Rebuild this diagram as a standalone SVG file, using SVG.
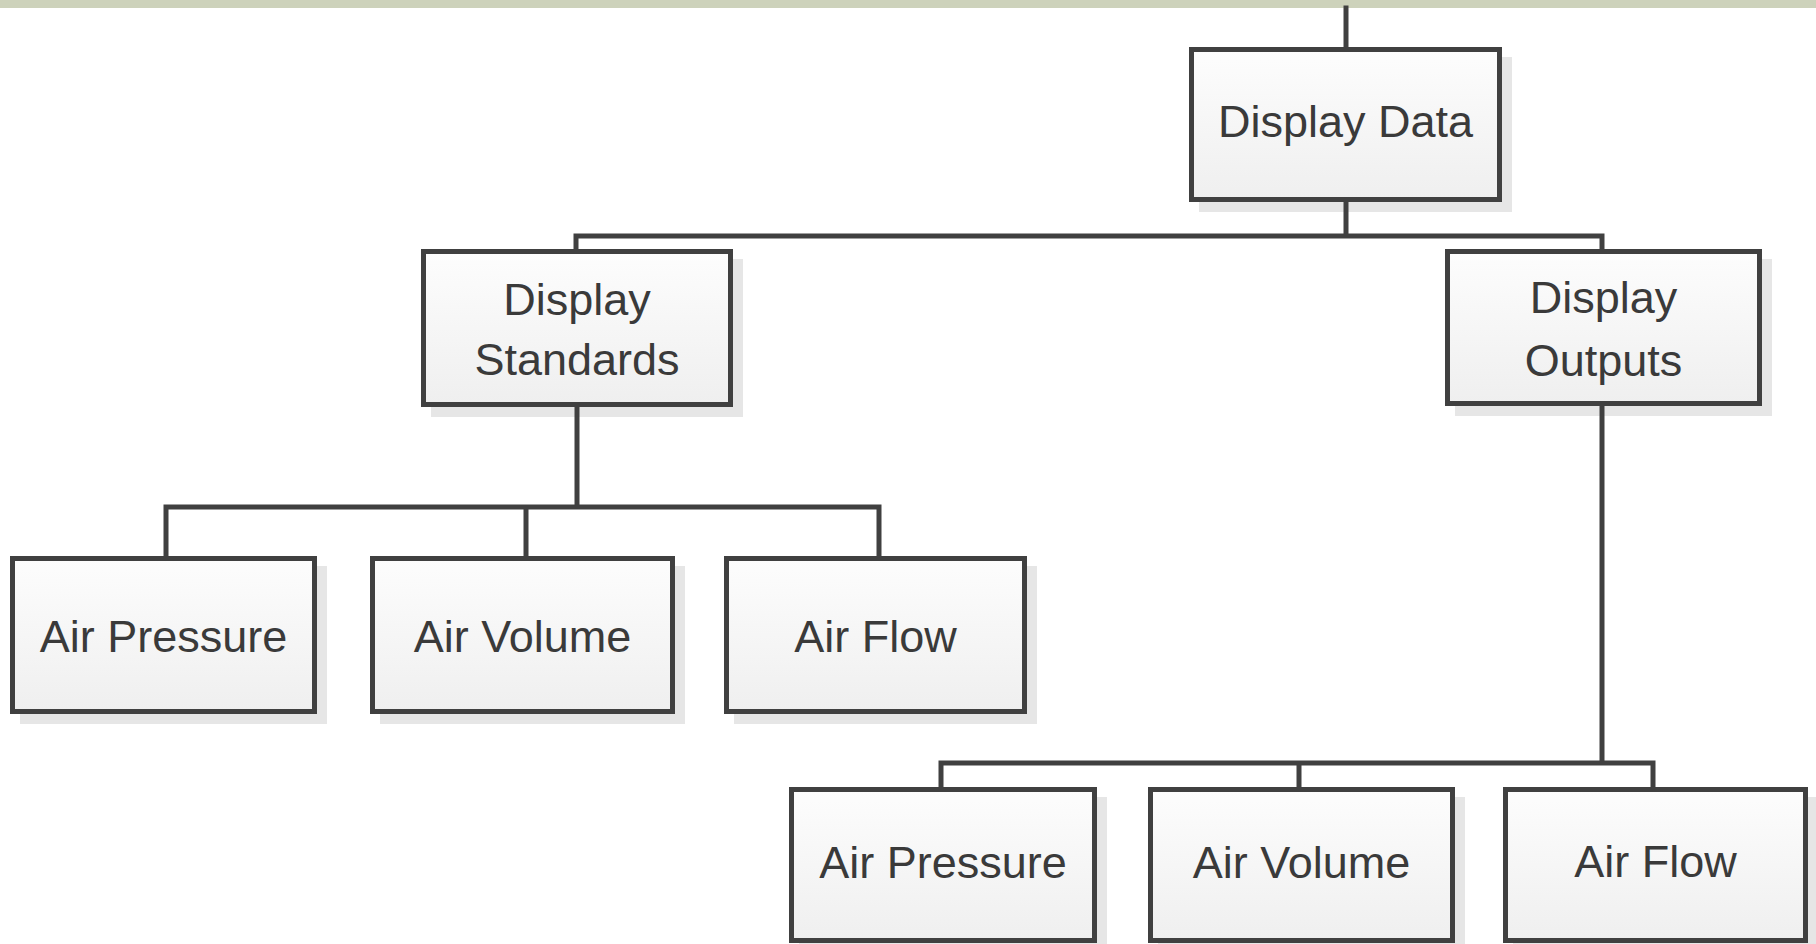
<svg xmlns="http://www.w3.org/2000/svg" width="1816" height="944" viewBox="0 0 1816 944">
  <style>
    .box { fill: url(#g); stroke: #404040; stroke-width: 5; }
    .sh { fill: #e6e6e6; }
    .t { font-family: "Liberation Sans", Arial, sans-serif; font-size: 45px; fill: #3a3a3a; text-anchor: middle; }
    .c { fill: none; stroke: #404040; stroke-width: 5; stroke-linecap: square; }
  </style>
  <defs>
    <linearGradient id="g" x1="0" y1="0" x2="0" y2="1">
      <stop offset="0" stop-color="#fdfdfd"/>
      <stop offset="1" stop-color="#efefef"/>
    </linearGradient>
  </defs>
  <rect x="0" y="0" width="1816" height="944" fill="#ffffff"/>
  <rect x="0" y="0" width="1816" height="8" fill="#cdd2bb"/>

  <g id="display-data">
    <rect class="sh" x="1199" y="57" width="313" height="155"/>
    <rect class="box" x="1191.5" y="49.5" width="308" height="150"/>
    <text class="t" x="1345.5" y="137">Display Data</text>
  </g>
  <g id="display-standards">
    <rect class="sh" x="431" y="259" width="312" height="158"/>
    <rect class="box" x="423.5" y="251.5" width="307" height="153"/>
    <text class="t" x="577" y="315">Display</text>
    <text class="t" x="577" y="375">Standards</text>
  </g>
  <g id="display-outputs">
    <rect class="sh" x="1455" y="259" width="317" height="157"/>
    <rect class="box" x="1447.5" y="251.5" width="312" height="152"/>
    <text class="t" x="1603.5" y="313">Display</text>
    <text class="t" x="1603.5" y="376">Outputs</text>
  </g>
  <g id="std-air-pressure">
    <rect class="sh" x="20" y="566" width="307" height="158"/>
    <rect class="box" x="12.5" y="558.5" width="302" height="153"/>
    <text class="t" x="163.5" y="652">Air Pressure</text>
  </g>
  <g id="std-air-volume">
    <rect class="sh" x="380" y="566" width="305" height="158"/>
    <rect class="box" x="372.5" y="558.5" width="300" height="153"/>
    <text class="t" x="522.5" y="652">Air Volume</text>
  </g>
  <g id="std-air-flow">
    <rect class="sh" x="734" y="566" width="303" height="158"/>
    <rect class="box" x="726.5" y="558.5" width="298" height="153"/>
    <text class="t" x="875.5" y="652">Air Flow</text>
  </g>
  <g id="out-air-pressure">
    <rect class="sh" x="799" y="797" width="308" height="156"/>
    <rect class="box" x="791.5" y="789.5" width="303" height="151"/>
    <text class="t" x="943" y="878">Air Pressure</text>
  </g>
  <g id="out-air-volume">
    <rect class="sh" x="1158" y="797" width="307" height="156"/>
    <rect class="box" x="1150.5" y="789.5" width="302" height="151"/>
    <text class="t" x="1301.5" y="878">Air Volume</text>
  </g>
  <g id="out-air-flow">
    <rect class="sh" x="1513" y="797" width="305" height="156"/>
    <rect class="box" x="1505.5" y="789.5" width="300" height="151"/>
    <text class="t" x="1655.5" y="877">Air Flow</text>
  </g>

  <g id="connectors">
    <path class="c" d="M1346 8 V47"/>
    <path class="c" d="M1346 202 V236 M576 236 H1602 M576 236 V249 M1602 236 V249"/>
    <path class="c" d="M577 407 V507 M166 507 H879 M166 507 V556 M526 507 V556 M879 507 V556"/>
    <path class="c" d="M1602 406 V763 M941 763 H1653 M941 763 V787 M1299 763 V787 M1653 763 V787"/>
  </g>
</svg>
